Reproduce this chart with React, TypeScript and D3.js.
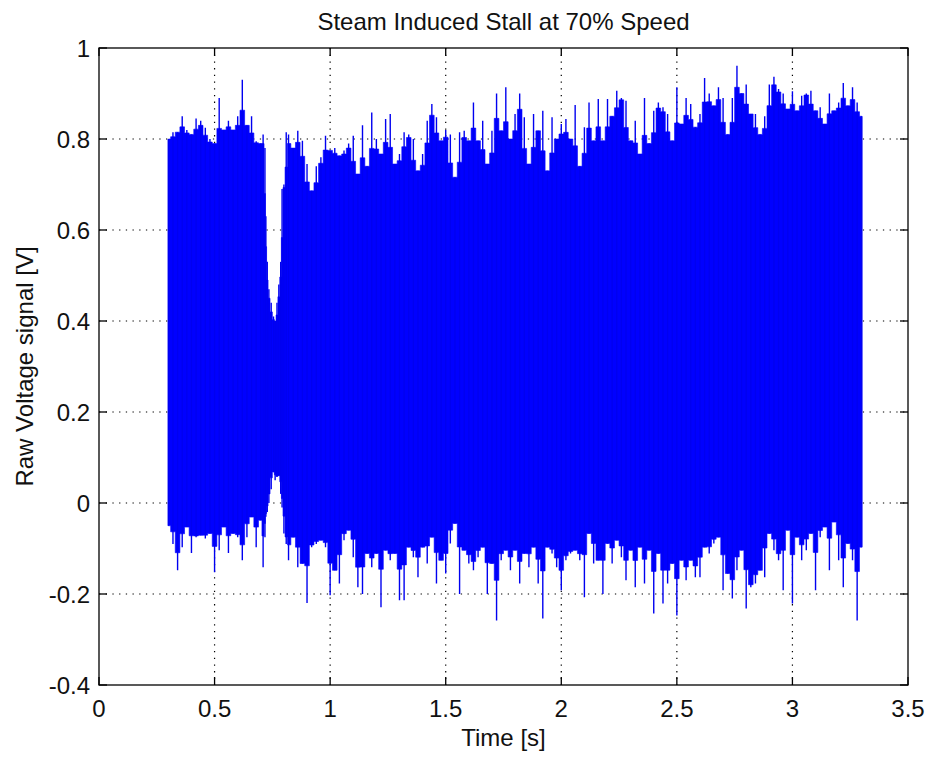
import React from "react";
import * as d3 from "d3";

const title = "Steam Induced Stall at 70% Speed";
const xLabel = "Time [s]";
const yLabel = "Raw Voltage signal [V]";

const xTicks = [0, 0.5, 1, 1.5, 2, 2.5, 3, 3.5];
const xTickLabels = ["0", "0.5", "1", "1.5", "2", "2.5", "3", "3.5"];
const yTicks = [-0.4, -0.2, 0, 0.2, 0.4, 0.6, 0.8, 1];
const yTickLabels = ["-0.4", "-0.2", "0", "0.2", "0.4", "0.6", "0.8", "1"];

// sample times [s] of the envelope readings
const times = [
  0.30, 0.32, 0.34, 0.36, 0.38, 0.40, 0.42, 0.44, 0.46, 0.48,
  0.50, 0.52, 0.54, 0.56, 0.58, 0.60, 0.62, 0.64, 0.66, 0.68,
  0.70, 0.71, 0.718, 0.722, 0.728, 0.735, 0.745, 0.755, 0.762, 0.77,
  0.778, 0.786, 0.792, 0.80, 0.81, 0.82, 0.84, 0.86, 0.88, 0.90,
  0.92, 0.94, 0.96, 0.98, 1.00, 1.02, 1.04, 1.06, 1.08, 1.10,
  1.12, 1.14, 1.16, 1.18, 1.20, 1.22, 1.24, 1.26, 1.28, 1.30,
  1.32, 1.34, 1.36, 1.38, 1.40, 1.42, 1.44, 1.46, 1.48, 1.50,
  1.52, 1.54, 1.56, 1.58, 1.60, 1.62, 1.64, 1.66, 1.68, 1.70,
  1.72, 1.74, 1.76, 1.78, 1.80, 1.82, 1.84, 1.86, 1.88, 1.90,
  1.92, 1.94, 1.96, 1.98, 2.00, 2.02, 2.04, 2.06, 2.08, 2.10,
  2.12, 2.14, 2.16, 2.18, 2.20, 2.22, 2.24, 2.26, 2.28, 2.30,
  2.32, 2.34, 2.36, 2.38, 2.40, 2.42, 2.44, 2.46, 2.48, 2.50,
  2.52, 2.54, 2.56, 2.58, 2.60, 2.62, 2.64, 2.66, 2.68, 2.70,
  2.72, 2.74, 2.76, 2.78, 2.80, 2.82, 2.84, 2.86, 2.88, 2.90,
  2.92, 2.94, 2.96, 2.98, 3.00, 3.02, 3.04, 3.06, 3.08, 3.10,
  3.12, 3.14, 3.16, 3.18, 3.20, 3.22, 3.24, 3.26, 3.28, 3.30,
];

// upper (max) envelope of the raw signal [V]
const upper = [
  0.80, 0.815, 0.815, 0.85, 0.82, 0.81, 0.845, 0.84, 0.825, 0.80,
  0.79, 0.89, 0.82, 0.84, 0.82, 0.85, 0.93, 0.83, 0.85, 0.795,
  0.79, 0.81, 0.78, 0.63, 0.53, 0.47, 0.44, 0.41, 0.40, 0.44,
  0.48, 0.53, 0.69, 0.70, 0.815, 0.81, 0.78, 0.818, 0.796, 0.745,
  0.686, 0.74, 0.76, 0.807, 0.775, 0.78, 0.763, 0.775, 0.79, 0.807,
  0.723, 0.83, 0.74, 0.858, 0.80, 0.767, 0.844, 0.855, 0.745, 0.767,
  0.815, 0.81, 0.80, 0.73, 0.767, 0.84, 0.877, 0.848, 0.796, 0.82,
  0.81, 0.716, 0.815, 0.818, 0.796, 0.88, 0.796, 0.84, 0.745, 0.818,
  0.90, 0.818, 0.914, 0.80, 0.855, 0.90, 0.848, 0.745, 0.855, 0.818,
  0.862, 0.73, 0.848, 0.80, 0.833, 0.844, 0.80, 0.875, 0.74, 0.826,
  0.88, 0.796, 0.888, 0.796, 0.888, 0.85, 0.906, 0.89, 0.884, 0.796,
  0.84, 0.767, 0.89, 0.79, 0.862, 0.88, 0.87, 0.855, 0.796, 0.914,
  0.833, 0.89, 0.877, 0.826, 0.855, 0.934, 0.90, 0.873, 0.914, 0.89,
  0.81, 0.89, 0.961, 0.90, 0.92, 0.855, 0.855, 0.81, 0.85, 0.92,
  0.937, 0.91, 0.90, 0.866, 0.905, 0.862, 0.895, 0.90, 0.906, 0.862,
  0.87, 0.833, 0.90, 0.862, 0.88, 0.923, 0.873, 0.914, 0.88, 0.85,
];

// lower (min) envelope of the raw signal [V]
const lower = [
  -0.05, -0.09, -0.148, -0.097, -0.053, -0.11, -0.075, -0.071, -0.078, -0.067,
  -0.152, -0.104, -0.053, -0.11, -0.067, -0.075, -0.126, -0.075, -0.031, -0.097,
  -0.038, -0.141, -0.075, -0.03, -0.02, 0.0, 0.03, 0.068, 0.05, 0.057,
  0.06, 0.02, -0.01, -0.067, -0.09, -0.126, -0.075, -0.141, -0.133, -0.22,
  -0.097, -0.09, -0.082, -0.097, -0.203, -0.148, -0.177, -0.082, -0.06, -0.119,
  -0.185, -0.20, -0.111, -0.141, -0.111, -0.229, -0.104, -0.126, -0.111, -0.214,
  -0.214, -0.097, -0.119, -0.163, -0.097, -0.133, -0.075, -0.177, -0.126, -0.155,
  -0.089, -0.045, -0.20, -0.104, -0.133, -0.148, -0.119, -0.097, -0.20, -0.133,
  -0.258, -0.126, -0.104, -0.148, -0.104, -0.177, -0.111, -0.141, -0.097, -0.177,
  -0.254, -0.097, -0.111, -0.141, -0.192, -0.126, -0.111, -0.104, -0.126, -0.207,
  -0.067, -0.133, -0.126, -0.20, -0.089, -0.133, -0.082, -0.119, -0.17, -0.104,
  -0.185, -0.097, -0.177, -0.104, -0.243, -0.111, -0.221, -0.177, -0.133, -0.247,
  -0.126, -0.17, -0.126, -0.163, -0.163, -0.097, -0.111, -0.089, -0.075, -0.192,
  -0.155, -0.21, -0.148, -0.104, -0.232, -0.185, -0.177, -0.148, -0.163, -0.067,
  -0.104, -0.126, -0.192, -0.06, -0.221, -0.075, -0.126, -0.104, -0.067, -0.192,
  -0.075, -0.053, -0.148, -0.042, -0.126, -0.185, -0.089, -0.126, -0.258, -0.097,
];

const W = 931;
const H = 757;
const L = 99;
const R = 908;
const T = 48;
const B = 685;
const FONT = "'Liberation Sans', Arial, Helvetica, sans-serif";
const FS = 24;
const TICK = 8;

type Row = { t: number; hi: number; lo: number; bhi: number; blo: number };

export default function App() {
  const x = d3.scaleLinear().domain([0, 3.5]).range([L, R]);
  const y = d3.scaleLinear().domain([-0.4, 1]).range([B, T]);

  // body of the trace: each column's solid part reaches the lower of its neighbours' peaks,
  // the reading itself is drawn as a thin needle on top of it
  const n = times.length;
  const rows: Row[] = times.map((t, i) => {
    const a = Math.max(0, i - 1);
    const c = Math.min(n - 1, i + 1);
    const bhi = Math.min(upper[a], upper[i], upper[c]);
    const blo = Math.max(lower[a], lower[i], lower[c]);
    return { t, hi: upper[i], lo: lower[i], bhi: (bhi * 2 + upper[i]) / 3, blo: (blo * 2 + lower[i]) / 3 };
  });

  const body = d3
    .area<Row>()
    .x((d) => x(d.t))
    .y0((d) => y(d.blo))
    .y1((d) => y(d.bhi))
    .curve(d3.curveStep);

  return (
    <svg
      width={W}
      height={H}
      style={{ position: "absolute", left: 0, top: 0, background: "#fff" }}
      fontFamily={FONT}
    >
      <rect x={0} y={0} width={W} height={H} fill="#fff" />
      {/* grid */}
      {xTicks.slice(1, -1).map((v) => (
        <line
          key={"gx" + v}
          x1={x(v)}
          x2={x(v)}
          y1={T}
          y2={B}
          stroke="#000"
          strokeWidth={1.2}
          strokeDasharray="1.3,5.4"
        />
      ))}
      {yTicks.slice(1, -1).map((v) => (
        <line
          key={"gy" + v}
          x1={L}
          x2={R}
          y1={y(v)}
          y2={y(v)}
          stroke="#000"
          strokeWidth={1.2}
          strokeDasharray="1.3,5.4"
        />
      ))}
      {/* signal */}
      <path d={body(rows) || ""} fill="#0000ff" stroke="#0000ff" strokeWidth={0.6} />
      {rows.map((d, i) => (
        <line
          key={"s" + i}
          x1={x(d.t)}
          x2={x(d.t)}
          y1={y(d.lo)}
          y2={y(d.hi)}
          stroke="#0000f0"
          strokeWidth={1.4}
        />
      ))}
      {/* box */}
      <rect x={L} y={T} width={R - L} height={B - T} fill="none" stroke="#000" strokeWidth={1.3} />
      {/* ticks */}
      {xTicks.map((v) => (
        <g key={"tx" + v}>
          <line x1={x(v)} x2={x(v)} y1={B} y2={B - TICK} stroke="#000" strokeWidth={1.3} />
          <line x1={x(v)} x2={x(v)} y1={T} y2={T + TICK} stroke="#000" strokeWidth={1.3} />
        </g>
      ))}
      {yTicks.map((v) => (
        <g key={"ty" + v}>
          <line x1={L} x2={L + TICK} y1={y(v)} y2={y(v)} stroke="#000" strokeWidth={1.3} />
          <line x1={R} x2={R - TICK} y1={y(v)} y2={y(v)} stroke="#000" strokeWidth={1.3} />
        </g>
      ))}
      {/* tick labels */}
      {xTicks.map((v, i) => (
        <text key={"lx" + v} x={x(v)} y={717} textAnchor="middle" fontSize={FS} fill="#111">
          {xTickLabels[i]}
        </text>
      ))}
      {yTicks.map((v, i) => (
        <text
          key={"ly" + v}
          x={90}
          y={y(v)}
          dy="0.36em"
          textAnchor="end"
          fontSize={FS}
          fill="#111"
        >
          {yTickLabels[i]}
        </text>
      ))}
      {/* labels */}
      <text x={(L + R) / 2} y={30} textAnchor="middle" fontSize={FS} fill="#111">
        {title}
      </text>
      <text x={(L + R) / 2} y={746} textAnchor="middle" fontSize={FS} fill="#111">
        {xLabel}
      </text>
      <text
        transform={`translate(33, ${(T + B) / 2}) rotate(-90)`}
        textAnchor="middle"
        fontSize={FS}
        fill="#111"
      >
        {yLabel}
      </text>
    </svg>
  );
}
